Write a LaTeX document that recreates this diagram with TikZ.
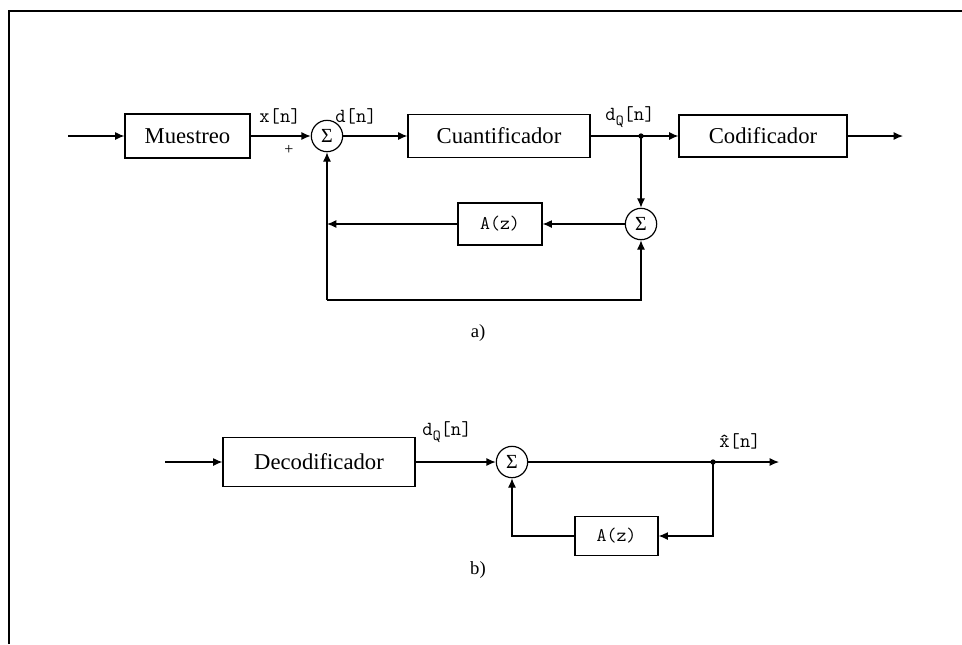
\documentclass[tikz,border=0pt]{standalone}
\usepackage{fontspec}
\setmainfont{Liberation Serif}
\usetikzlibrary{arrows.meta}
\tikzset{
  blk/.style={draw, line width=0.9pt, inner sep=0pt, font=\fontsize{17}{18}\selectfont},
  azblk/.style={draw, line width=0.9pt, inner sep=0pt, font=\ttfamily\fontsize{14.5}{16}\selectfont},
  sumnode/.style={draw, circle, line width=0.9pt, minimum size=23.5pt, inner sep=0pt, font=\fontsize{15}{16}\selectfont},
  lbl/.style={font=\ttfamily\fontsize{15}{17}\selectfont, inner sep=0pt},
  captext/.style={font=\fontsize{14}{16}\selectfont, inner sep=0pt},
  wire/.style={line width=0.9pt},
  arr/.style={line width=0.9pt, -{Latex[length=7pt,width=6pt]}},
  jdot/.style={circle, fill, inner sep=0pt, minimum size=4pt}
}
\begin{document}
\begin{tikzpicture}[x=0.75pt,y=-0.75pt]
\useasboundingbox (0,0) rectangle (962,644);
% frame
\draw[line width=1.4pt] (9,644) -- (9,11) -- (962,11);

% ---------- a) ----------
\coordinate (in1) at (68,136);
\node[blk, minimum width=93.75pt, minimum height=33pt] (mu) at (187.5,136) {Muestreo};
\node[sumnode] (s1) at (327,136) {Σ};
\node[blk, minimum width=136.5pt, minimum height=32pt] (cu) at (499,136) {Cuantificador};
\node[jdot] (j1) at (641,136) {};
\node[blk, minimum width=126pt, minimum height=31.5pt] (co) at (763,136) {Codificador};
\coordinate (out1) at (903,136);
\node[sumnode] (s2) at (641,224) {Σ};
\node[azblk, minimum width=63pt, minimum height=31.5pt] (az1) at (500,224) {A(z)};
\coordinate (fbL) at (327,224);
\coordinate (fbB) at (327,300);
\coordinate (fbR) at (641,300);

\draw[arr] (in1) -- (mu.west);
\draw[arr] (mu.east) -- (s1.west);
\draw[arr] (s1.east) -- (cu.west);
\draw[wire] (cu.east) -- (j1.center);
\draw[arr] (j1.center) -- (co.west);
\draw[arr] (co.east) -- (out1);
\draw[arr] (j1.center) -- (s2.north);
\draw[arr] (s2.west) -- (az1.east);
\draw[arr] (az1.west) -- (fbL);
\draw[arr] (fbB) -- (s1.south);
\draw[arr] (fbB) -- (fbR) -- (s2.south);

\node[lbl] (lx) at (280,116) {x[n]};
\node[font=\fontsize{12}{13}\selectfont, inner sep=0pt] (lplus) at (289,150) {+};
\node[lbl] (ld) at (356,116) {d[n]};
\node[lbl] (ldq) at (630,117) {d\raisebox{-0.5ex}{\fontsize{11.5}{12}\selectfont Q}[n]};
\node[captext] (capa) at (478,333) {a)};

% ---------- b) ----------
\coordinate (in2) at (165,462);
\node[blk, minimum width=144pt, minimum height=36.75pt] (de) at (319,462) {Decodificador};
\node[sumnode] (s3) at (512,462) {Σ};
\node[jdot] (j2) at (713,462) {};
\coordinate (out2) at (779,462);
\node[azblk, minimum width=62.25pt, minimum height=29.25pt] (az2) at (616.5,536) {A(z)};
\coordinate (lbR) at (713,536);
\coordinate (lbL) at (512,536);

\draw[arr] (in2) -- (de.west);
\draw[arr] (de.east) -- (s3.west);
\draw[wire] (s3.east) -- (j2.center);
\draw[arr] (j2.center) -- (out2);
\draw[arr] (j2.center) -- (lbR) -- (az2.east);
\draw[arr] (az2.west) -- (lbL) -- (s3.south);

\node[lbl] (ldq2) at (447,432) {d\raisebox{-0.5ex}{\fontsize{11.5}{12}\selectfont Q}[n]};
\node[lbl] (lxh) at (740,441) {\^{x}[n]};
\node[captext] (capb) at (478,570) {b)};
\end{tikzpicture}
\end{document}
